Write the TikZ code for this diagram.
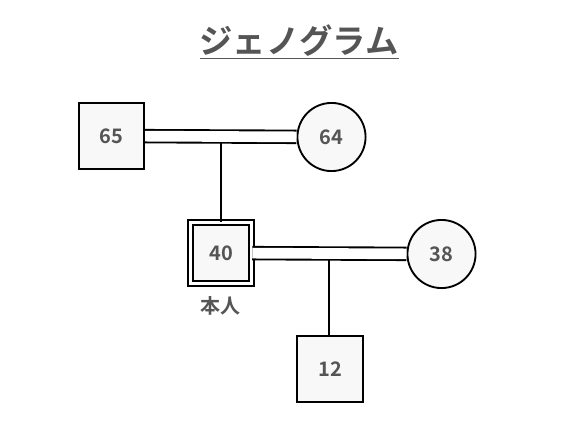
\documentclass[tikz,border=0pt]{standalone}
\usepackage{fontspec}
\setmainfont{Noto Sans CJK JP}[BoldFont={Noto Sans CJK JP Bold}]
\usepackage{xcolor}
\usetikzlibrary{shapes.geometric, arrows, positioning, calc}
\definecolor{txtgray}{HTML}{555555}
\definecolor{boxfill}{HTML}{F8F8F8}
\tikzstyle{male} = [rectangle, minimum size=48.9pt, inner sep=0pt, draw=black, line width=1.4pt, fill=boxfill, text=txtgray, font=\bfseries\fontsize{15}{15}\selectfont]
\tikzstyle{female} = [circle, minimum size=51.1pt, inner sep=0pt, draw=black, line width=1.4pt, fill=boxfill, text=txtgray, font=\bfseries\fontsize{15}{15}\selectfont]
\tikzstyle{client} = [male, minimum size=45.5pt, double, double distance=2.7pt]
\tikzstyle{marriage} = [line width=1.4pt, double, double distance=8pt]
\tikzstyle{descent} = [line width=1.4pt]
\tikzstyle{label} = [text=txtgray, font=\bfseries\fontsize{15}{15}\selectfont]

\begin{document}
\begin{tikzpicture}[x=0.75pt, y=-0.75pt]
   \useasboundingbox (0,0) rectangle (581,443);
   \node (title) at (299,42) [text=txtgray, font=\bfseries\fontsize{25}{25}\selectfont] {\underline{ジェノグラム}};
   \node (f65) [male] at (111.5,136) {65};
   \node (m64) [female] at (331.5,137) {64};
   \node (self) [client] at (221,253) {40};
   \node (w38) [female] at (441.5,254) {38};
   \node (c12) [male] at (330,369) {12};
   \node (selflabel) [label] at (220,306) {本人};
   \coordinate (mid1) at ($(f65.east)!0.5!(m64.west)$);
   \coordinate (mid2) at ($(self.east)!0.5!(w38.west)$);
   \draw [descent] (mid1) -- (mid1 |- self.north);
   \draw [descent] (mid2) -- (mid2 |- c12.north);
   \draw [marriage] (f65) -- (m64);
   \draw [marriage] (self) -- (w38);
\end{tikzpicture}
\end{document}
